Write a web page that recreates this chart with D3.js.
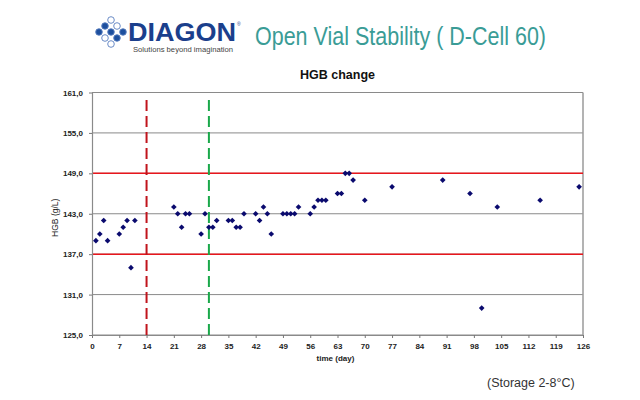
<!DOCTYPE html>
<html>
<head>
<meta charset="utf-8">
<script src="https://cdn.jsdelivr.net/npm/d3@7"></script>
<style>
  body { margin: 0; background: #fff; }
  svg { display: block; }
  .tick-label { font-family: "Liberation Sans", Arial, sans-serif; font-size: 8px; font-weight: bold; fill: #222; }
</style>
</head>
<body>
<div id="chart"></div>
<script>
// Data
const days = [1, 2, 3, 4, 7, 8, 9, 10, 11,
  21, 22, 23, 24, 25, 28, 29, 30, 31, 32, 35, 36, 37, 38, 39, 42, 43, 44, 45, 46,
  49, 50, 51, 52, 53, 56, 57, 58, 59, 60, 63, 64, 65, 66, 67, 70, 77,
  90, 97, 100, 104, 115, 125];
const hgb = [139, 140, 142, 139, 140, 141, 142, 135, 142,
  144, 143, 141, 143, 143, 140, 143, 141, 141, 142, 142, 142, 141, 141, 143, 143, 142, 144, 143, 140,
  143, 143, 143, 143, 144, 143, 144, 145, 145, 145, 146, 146, 149, 149, 148, 145, 147,
  148, 146, 129, 144, 145, 147];
const yTicks = [125, 131, 137, 143, 149, 155, 161];
const xTicks = d3.range(0, 127, 7);
const limits = [137, 149];
const markerDays = [{ day: 14, color: "#c0141c" }, { day: 30, color: "#1aa84a" }];

const W = 640, H = 400;
const plot = { left: 92, right: 583, top: 92.5, bottom: 335 };

const svg = d3.select("#chart").append("svg")
  .attr("width", W).attr("height", H);

// Header: logo and title
const logo = svg.append("g").attr("transform", "translate(96,18)");
const dots = [[0,13],[6,7],[6,19],[12,13],[12,1],[12,25],[18,7],[18,19],[24,13]];
logo.selectAll("circle").data(dots).enter().append("circle")
  .attr("cx", d => d[0] + 3).attr("cy", d => d[1] + 1)
  .attr("r", 3.3)
  .attr("fill", (d, i) => (i === 0 || i === 3 || i === 8 || i === 1 || i === 7) ? "#1d4f9e" : "#fff")
  .attr("stroke", "#5a7fbf").attr("stroke-width", 0.9);
svg.append("text")
  .attr("x", 128).attr("y", 41)
  .attr("textLength", 108).attr("lengthAdjust", "spacingAndGlyphs")
  .style("font-family", "'Liberation Sans', Arial, sans-serif")
  .style("font-size", "25px").style("font-weight", "bold")
  .style("fill", "#1b3f8c")
  .text("DIAGON");
svg.append("text")
  .attr("x", 237).attr("y", 26)
  .style("font-family", "'Liberation Sans', Arial, sans-serif")
  .style("font-size", "5px").style("fill", "#1b3f8c")
  .text("®");
svg.append("text")
  .attr("x", 133).attr("y", 52)
  .attr("textLength", 100).attr("lengthAdjust", "spacingAndGlyphs")
  .style("font-family", "'Liberation Sans', Arial, sans-serif")
  .style("font-size", "7px").style("fill", "#444")
  .text("Solutions beyond imagination");
svg.append("text")
  .attr("x", 255).attr("y", 45)
  .attr("textLength", 291).attr("lengthAdjust", "spacingAndGlyphs")
  .style("font-family", "'Liberation Sans Narrow', 'Arial Narrow', sans-serif")
  .style("font-size", "25px")
  .style("fill", "#3a9c96")
  .text("Open Vial Stability ( D-Cell 60)");

// Chart title
svg.append("text")
  .attr("x", (plot.left + plot.right) / 2).attr("y", 79)
  .attr("text-anchor", "middle")
  .style("font-family", "'Liberation Sans', Arial, sans-serif")
  .style("font-size", "12.5px").style("font-weight", "bold").style("fill", "#111")
  .text("HGB change");

// Scales
const x = d3.scaleLinear().domain([0, 126]).range([plot.left, plot.right]);
const y = d3.scaleLinear().domain([125, 161]).range([plot.bottom, plot.top]);

// Gridlines
svg.append("g").selectAll("line").data(yTicks).enter().append("line")
  .attr("x1", plot.left).attr("x2", plot.right)
  .attr("y1", d => y(d)).attr("y2", d => y(d))
  .attr("stroke", "#8a8a8a").attr("stroke-width", 1);

// Right border
svg.append("line")
  .attr("x1", plot.right).attr("x2", plot.right)
  .attr("y1", plot.top).attr("y2", plot.bottom)
  .attr("stroke", "#9a9a9a").attr("stroke-width", 1.5);

// Limit lines
svg.append("g").selectAll("line").data(limits).enter().append("line")
  .attr("x1", plot.left).attr("x2", plot.right)
  .attr("y1", d => y(d)).attr("y2", d => y(d))
  .attr("stroke", "#e8161c").attr("stroke-width", 1.5);

// Axes
const xAxis = svg.append("g")
  .attr("transform", `translate(0,${plot.bottom})`)
  .call(d3.axisBottom(x).tickValues(xTicks).tickSize(3).tickSizeOuter(0).tickPadding(5));
const yAxis = svg.append("g")
  .attr("transform", `translate(${plot.left},0)`)
  .call(d3.axisLeft(y).tickValues(yTicks).tickSize(3).tickSizeOuter(0).tickPadding(6)
    .tickFormat(d => d3.format(".1f")(d).replace(".", ",")));
[xAxis, yAxis].forEach(a => {
  a.select(".domain").attr("stroke", "#8a8a8a").attr("stroke-width", 1.2);
  a.selectAll(".tick line").attr("stroke", "#777");
  a.selectAll(".tick text").attr("class", "tick-label").attr("fill", null);
});

// Dashed day markers
svg.append("g").selectAll("line").data(markerDays).enter().append("line")
  .attr("x1", d => x(d.day)).attr("x2", d => x(d.day))
  .attr("y1", 100).attr("y2", plot.bottom)
  .attr("stroke", d => d.color).attr("stroke-width", 2)
  .attr("stroke-dasharray", "11,5");

// Points
svg.append("g").selectAll("path").data(days).enter().append("path")
  .attr("d", d3.symbol(d3.symbolSquare, 16))
  .attr("transform", (d, i) => `translate(${x(d)},${y(hgb[i])}) rotate(45)`)
  .attr("fill", "#0a0a6e");

// Axis titles
svg.append("text")
  .attr("x", (plot.left + plot.right) / 2 - 2).attr("y", 361)
  .attr("text-anchor", "middle")
  .style("font-family", "'Liberation Sans', Arial, sans-serif")
  .style("font-size", "8px").style("font-weight", "bold").style("fill", "#222")
  .text("time (day)");
svg.append("text")
  .attr("transform", `translate(58,${(plot.top + plot.bottom) / 2 + 4}) rotate(-90)`)
  .attr("text-anchor", "middle")
  .style("font-family", "'Liberation Sans', Arial, sans-serif")
  .style("font-size", "8.5px").style("fill", "#222")
  .text("HGB (g/L)");

svg.append("text")
  .attr("x", 487).attr("y", 387)
  .style("font-family", "'Liberation Sans', Arial, sans-serif")
  .style("font-size", "12.5px").style("fill", "#333")
  .text("(Storage 2-8°C)");
</script>
</body>
</html>
